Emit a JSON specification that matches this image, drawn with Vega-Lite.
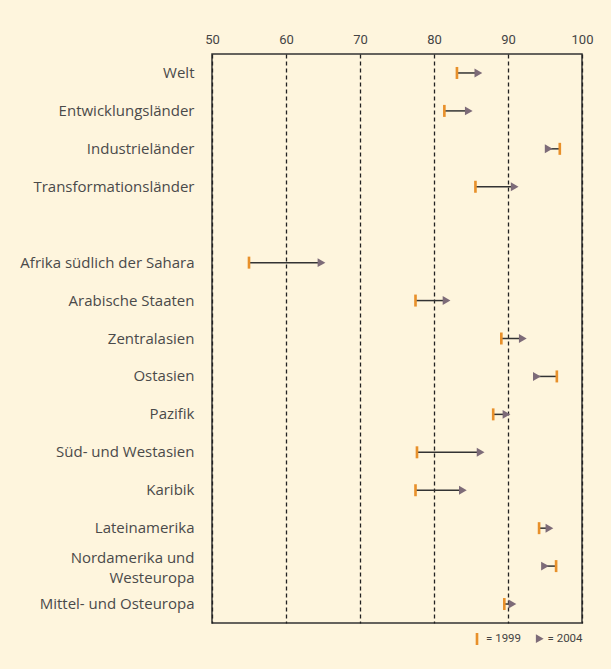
{
  "$schema": "https://vega.github.io/schema/vega-lite/v6.json",
  "autosize": {"type": "none"},
  "width": 370,
  "height": 569,
  "padding": {"left": 212, "top": 54, "right": 29, "bottom": 46},
  "background": "#fef5dd",
  "config": {
    "view": {"stroke": "#333333", "strokeWidth": 1.5, "fill": "#fef5dd"},
    "font": "Roboto"
  },
  "data": {
    "values": [
      {"region": "Welt", "1999": 83.1, "2004": 86.0},
      {"region": "Entwicklungsländer", "1999": 81.4, "2004": 84.7},
      {"region": "Industrieländer", "1999": 97.0, "2004": 95.5},
      {"region": "Transformationsländer", "1999": 85.6, "2004": 90.9},
      {"region": "Afrika südlich der Sahara", "1999": 55.0, "2004": 64.8},
      {"region": "Arabische Staaten", "1999": 77.5, "2004": 81.7},
      {"region": "Zentralasien", "1999": 89.1, "2004": 92.0},
      {"region": "Ostasien", "1999": 96.6, "2004": 93.9},
      {"region": "Pazifik", "1999": 88.0, "2004": 89.8},
      {"region": "Süd- und Westasien", "1999": 77.7, "2004": 86.3},
      {"region": "Karibik", "1999": 77.5, "2004": 83.9},
      {"region": "Lateinamerika", "1999": 94.2, "2004": 95.6},
      {"region": "Nordamerika und Westeuropa", "1999": 96.5, "2004": 95.0},
      {"region": "Mittel- und Osteuropa", "1999": 89.5, "2004": 90.6}
    ]
  },
  "encoding": {
    "y": {
      "field": "region",
      "type": "nominal",
      "scale": {
        "domain": ["Welt", "Entwicklungsländer", "Industrieländer", "Transformationsländer", " ", "Afrika südlich der Sahara", "Arabische Staaten", "Zentralasien", "Ostasien", "Pazifik", "Süd- und Westasien", "Karibik", "Lateinamerika", "Nordamerika und Westeuropa", "Mittel- und Osteuropa"],
        "paddingInner": 0,
        "paddingOuter": 0
      },
      "axis": {
        "title": null,
        "domain": false,
        "ticks": false,
        "labelPadding": 18,
        "labelFont": "Open Sans",
        "labelFontSize": 15,
        "labelColor": "#4a4a4a",
        "labelLineHeight": 20,
        "labelOffset": {"condition": {"test": "datum.value == 'Nordamerika und Westeuropa'", "value": -8}, "value": 0},
        "labelExpr": "datum.value == 'Nordamerika und Westeuropa' ? ['Nordamerika und', 'Westeuropa'] : datum.value"
      }
    }
  },
  "layer": [
    {
      "mark": {"type": "rule", "color": "#333333", "strokeWidth": 1.5},
      "encoding": {
        "x": {
          "field": "1999",
          "type": "quantitative",
          "scale": {"domain": [50, 100], "nice": false, "zero": false},
          "axis": {
            "orient": "top",
            "title": null,
            "values": [50, 60, 70, 80, 90, 100],
            "domain": false,
            "ticks": false,
            "labelFlush": false,
            "labelPadding": 8,
            "labelFont": "Roboto",
            "labelFontSize": 13,
            "labelColor": "#444444",
            "grid": true,
            "gridColor": "#222222",
            "gridWidth": 1.3,
            "gridDash": [4, 3],
            "gridOpacity": 1
          }
        },
        "x2": {"field": "2004"}
      }
    },
    {
      "transform": [{"fold": ["1999", "2004"], "as": ["year", "value"]}],
      "mark": {"type": "point", "filled": true, "opacity": 1, "strokeWidth": 0},
      "encoding": {
        "x": {"field": "value", "type": "quantitative"},
        "shape": {
          "field": "year",
          "type": "nominal",
          "scale": {"domain": ["1999", "2004"], "range": ["M-0.22,-1L0.22,-1L0.22,1L-0.22,1Z", "triangle-right"]},
          "legend": {
            "title": null,
            "orient": "none",
            "direction": "horizontal",
            "legendX": 258,
            "legendY": 578,
            "labelExpr": "'= ' + datum.label",
            "labelFont": "Roboto",
            "labelFontSize": 11.5,
            "labelColor": "#444444",
            "labelOffset": 2,
            "columnPadding": 12
          }
        },
        "color": {
          "field": "year",
          "type": "nominal",
          "scale": {"domain": ["1999", "2004"], "range": ["#e8902a", "#7d6b78"]}
        },
        "size": {
          "field": "year",
          "type": "nominal",
          "scale": {"domain": ["1999", "2004"], "range": [144, 80]}
        }
      }
    }
  ]
}
